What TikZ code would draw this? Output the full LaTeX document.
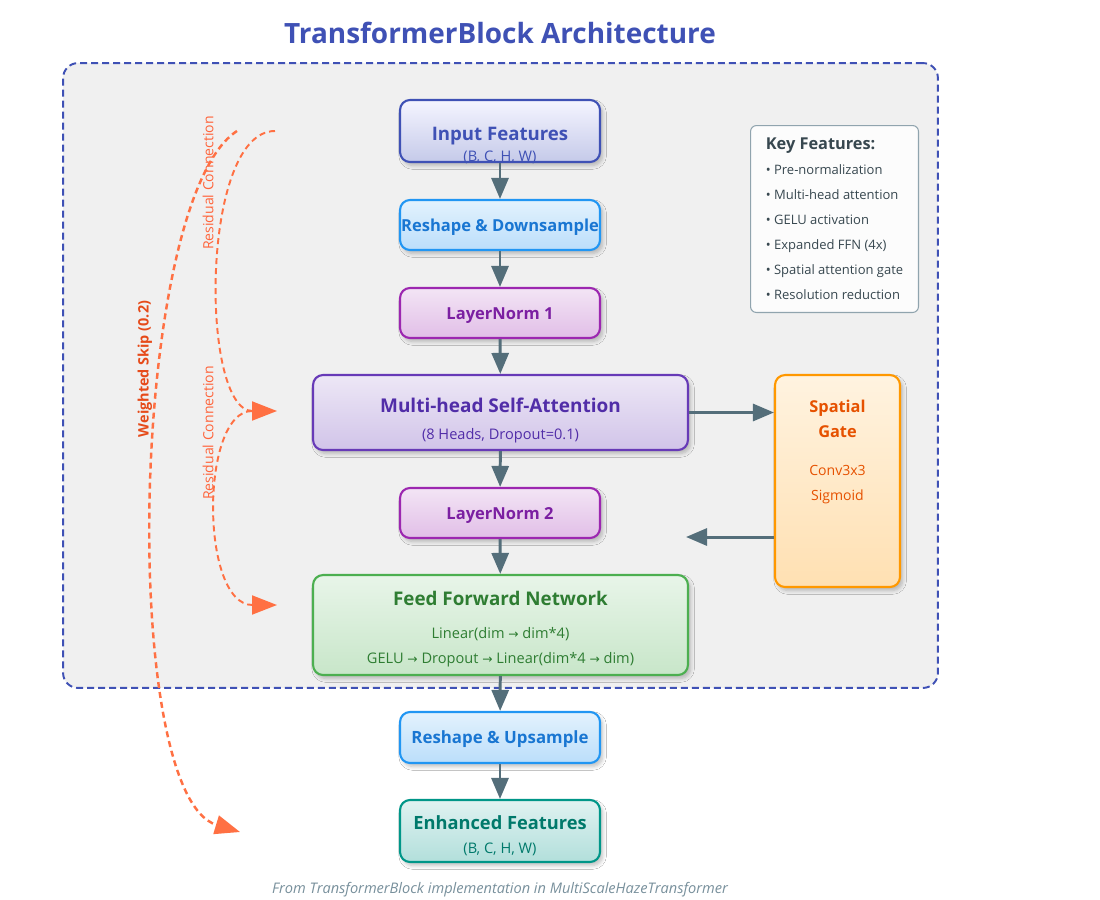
\documentclass[tikz,border=0pt]{standalone}
\usepackage{fontspec}
\setmainfont{Open Sans}
\newfontfamily\arrfont{DejaVu Sans}
\usetikzlibrary{arrows.meta,shadows.blur}

\definecolor{ttlblue}{HTML}{3F51B5}
\definecolor{arrgray}{HTML}{546E7A}
\definecolor{resorange}{HTML}{FF7043}
\definecolor{skiptext}{HTML}{E64A19}
\definecolor{keygray}{HTML}{90A4AE}
\definecolor{keytext}{HTML}{37474F}
\definecolor{footgray}{HTML}{78909C}

\newcommand{\ra}{{\arrfont\fontsize{7}{8}\selectfont →}}
\newcommand{\subt}[1]{{\fontsize{8.3}{9}\selectfont #1}}
\newcommand{\hd}[2]{{\bfseries\fontsize{#1}{12}\selectfont #2}}
% Text im Kasten, um #1 nach unten verschoben
\newcommand{\btxt}[2]{\raisebox{\dimexpr-#1-2.5pt\relax}[0pt][0pt]{\makebox[0pt]{\parbox{7.2cm}{\centering #2}}}}

\tikzset{
  box/.style={draw, rounded corners=0.2cm, line width=1.2pt, inner sep=1pt,
    blur shadow={shadow xshift=1.5pt, shadow yshift=-2pt, shadow blur steps=6, shadow opacity=25},
    font=\fontsize{9.6}{12.5}\selectfont},
  inbox/.style={box, draw=ttlblue, top color=blue!4!white, bottom color={rgb,255:red,197;green,202;blue,233}, text=ttlblue},
  bluebox/.style={box, draw={rgb,255:red,33;green,150;blue,243}, top color={rgb,255:red,227;green,242;blue,253}, bottom color={rgb,255:red,187;green,222;blue,251}, text={rgb,255:red,25;green,118;blue,210}},
  normbox/.style={box, draw={rgb,255:red,156;green,39;blue,176}, top color={rgb,255:red,243;green,229;blue,245}, bottom color={rgb,255:red,225;green,190;blue,231}, text={rgb,255:red,123;green,31;blue,162}},
  attbox/.style={box, draw={rgb,255:red,103;green,58;blue,183}, top color={rgb,255:red,237;green,231;blue,246}, bottom color={rgb,255:red,209;green,196;blue,233}, text={rgb,255:red,81;green,45;blue,168}},
  ffnbox/.style={box, draw={rgb,255:red,76;green,175;blue,80}, top color={rgb,255:red,232;green,245;blue,233}, bottom color={rgb,255:red,200;green,230;blue,201}, text={rgb,255:red,46;green,125;blue,50}},
  outbox/.style={box, draw={rgb,255:red,0;green,150;blue,136}, top color={rgb,255:red,224;green,242;blue,241}, bottom color={rgb,255:red,178;green,223;blue,219}, text={rgb,255:red,0;green,121;blue,107}},
  gatebox/.style={box, draw={rgb,255:red,255;green,152;blue,0}, top color={rgb,255:red,255;green,243;blue,224}, bottom color={rgb,255:red,255;green,224;blue,178}},
  flow/.style={-{Triangle[length=0.42cm,width=0.34cm]}, line width=1.7pt, draw=arrgray},
  resid/.style={-{Triangle[length=0.5cm,width=0.38cm]}, line width=1.1pt, draw=resorange, dash pattern=on 0.12cm off 0.08cm},
  rlabel/.style={rotate=90, text=resorange!90!red, font=\fontsize{8}{9}\selectfont},
}

\begin{document}
\begin{tikzpicture}[x=0.02cm, y=-0.02cm]
    \useasboundingbox[fill=white] (0,0) rectangle (1100,900);

    % Titel und Rahmen
    \node[font=\bfseries\fontsize{15.9}{18}\selectfont, text=ttlblue] (title) at (500,33) {TransformerBlock Architecture};
    \node[draw=ttlblue, fill=black!6, line width=1.1pt, dash pattern=on 0.14cm off 0.08cm, rounded corners=0.3cm,
        minimum width=17.5cm, minimum height=12.5cm] (frame) at (500.5,375.5) {};

    % Hauptpfad
    \node[inbox, minimum width=4cm, minimum height=1.24cm] (in) at (500,131)
        {\btxt{8pt}{\hd{10.6}{Input Features}\\[-0.5pt]\subt{(B, C, H, W)}}};
    \node[bluebox, minimum width=4cm, minimum height=1cm] (down) at (500,225)
        {\btxt{1.1pt}{\hd{9.4}{Reshape \& Downsample}}};
    \node[normbox, minimum width=4cm, minimum height=1cm] (ln1) at (500,313)
        {\btxt{1.4pt}{\hd{9.4}{LayerNorm 1}}};
    \node[attbox, minimum width=7.5cm, minimum height=1.5cm] (mhsa) at (500.5,412.5)
        {\btxt{4.3pt}{\hd{10.8}{Multi-head Self-Attention}\\[2.8pt]\subt{(8 Heads, Dropout=0.1)}}};
    \node[normbox, minimum width=4cm, minimum height=1cm] (ln2) at (500,513)
        {\btxt{1.4pt}{\hd{9.4}{LayerNorm 2}}};
    \node[ffnbox, minimum width=7.5cm, minimum height=2cm] (ffn) at (500.5,625)
        {\btxt{2.4pt}{\hd{10.7}{Feed Forward Network}\\[6.2pt]\subt{Linear(dim \ra{} dim*4)}\\[1.7pt]\subt{GELU \ra{} Dropout \ra{} Linear(dim*4 \ra{} dim)}}};
    \node[bluebox, minimum width=4cm, minimum height=1.02cm] (up) at (500,737.5)
        {\btxt{1.2pt}{\hd{9.6}{Reshape \& Upsample}}};
    \node[outbox, minimum width=4cm, minimum height=1.24cm] (out) at (500,831)
        {\btxt{2.8pt}{\hd{10.4}{Enhanced Features}\\[1.1pt]\subt{(B, C, H, W)}}};

    % Spatial Gate
    \node[gatebox, minimum width=2.5cm, minimum height=4.24cm] (gate) at (837.5,481) {};
    \node[text={rgb,255:red,230;green,81;blue,0}, align=center, font=\fontsize{8}{14.2}\selectfont] (gtxt) at (837.5,452)
        {{\bfseries\fontsize{9.3}{14.2}\selectfont Spatial}\\{\bfseries\fontsize{9.3}{14.2}\selectfont Gate}\\[7pt]Conv3x3\\Sigmoid};

    % Key Features
    \node[draw=keygray, fill=black!1, line width=0.6pt, rounded corners=0.12cm, anchor=north west,
        minimum width=3.36cm, minimum height=3.74cm, align=left, text=keytext, font=\fontsize{7.4}{14.2}\selectfont] (key) at (750,125)
        {{\bfseries\fontsize{9.3}{11}\selectfont Key Features:}\\
         • Pre-normalization\\
         • Multi-head attention\\
         • GELU activation\\
         • Expanded FFN (4x)\\
         • Spatial attention gate\\
         • Resolution reduction};

    % Pfeile
    \draw[flow] (in) -- (down);
    \draw[flow] (down) -- (ln1);
    \draw[flow] (ln1) -- (mhsa);
    \draw[flow] (mhsa) -- (ln2);
    \draw[flow] (ln2) -- (ffn);
    \draw[flow] (ffn) -- (up);
    \draw[flow] (up) -- (out);
    \draw[flow] (mhsa.east) -- (gate.west |- mhsa.east);
    \coordinate (gback) at (686,537);
    \draw[flow] (gate.west |- gback) -- (gback);

    % Residual und Skip
    \coordinate (r1a) at (275,131);
    \coordinate (r1b) at (277,411);
    \coordinate (r2a) at (252,411);
    \coordinate (r2b) at (277,605);
    \draw[resid] (r1a) .. controls (200,131) and (200,411) .. (r1b);
    \draw[resid] (r2a) .. controls (200,411) and (200,605) .. (r2b);
    \node[rlabel] (rl1) at (208,183) {Residual Connection};
    \node[rlabel] (rl2) at (208,433) {Residual Connection};

    \coordinate (ws0) at (237,131);
    \coordinate (ws1) at (240,832);
    \draw[resid, line width=1.4pt] (ws0) .. controls (130,200) and (118,795) .. (ws1);
    \node[rotate=90, text=skiptext, font=\bfseries\fontsize{8.2}{9}\selectfont] (wl) at (145,369) {Weighted Skip (0.2)};

    \node[text=footgray, font=\itshape\fontsize{8.3}{9}\selectfont] (foot) at (500,890)
        {From TransformerBlock implementation in MultiScaleHazeTransformer};
\end{tikzpicture}
\end{document}
